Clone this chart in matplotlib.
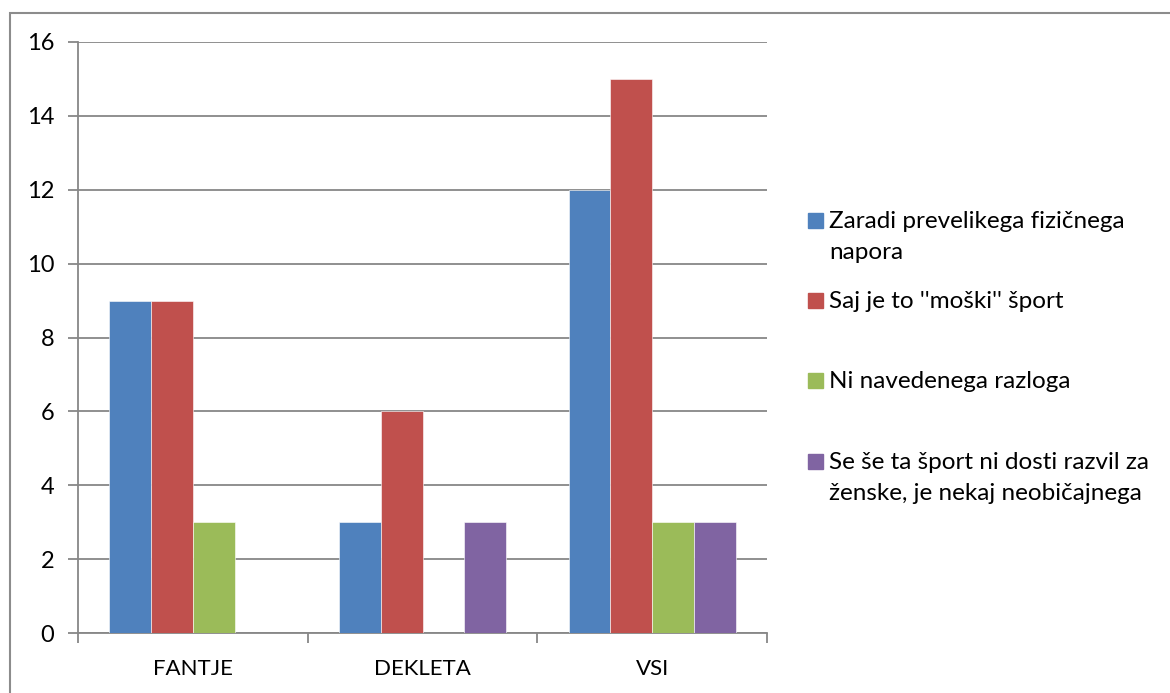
import numpy as np
import matplotlib
matplotlib.use('Agg')
import matplotlib.pyplot as plt
from matplotlib.patches import Rectangle

plt.rcParams['font.family'] = ['Lato', 'DejaVu Sans']

categories = ['FANTJE', 'DEKLETA', 'VSI']
series_names = ['Zaradi prevelikega fizičnega\nnapora',
                "Saj je to ''moški'' šport",
                'Ni navedenega razloga',
                'Se še ta šport ni dosti razvil za\nženske, je nekaj neobičajnega']
zaradi = [9, 3, 12]
saj = [9, 6, 15]
ni = [3, 0, 3]
se = [0, 3, 3]
colors = ['#4F81BD', '#C0504D', '#9BBB59', '#8064A2']
y_ticks = [0, 2, 4, 6, 8, 10, 12, 14, 16]

W, H = 1170, 693
fig = plt.figure(figsize=(W / 100, H / 100), dpi=100)
ax = fig.add_axes([78 / W, 1 - 633 / H, (767 - 78) / W, (633 - 42) / H])

grid_color = '#878787'
values = [zaradi, saj, ni, se]
n = len(values)
bar_w = 1 / (n + 1.5)
x = np.arange(len(categories)) + 0.5
for i, vals in enumerate(values):
    offs = (i - (n - 1) / 2) * bar_w
    ax.bar(x + offs, vals, width=bar_w, color=colors[i],
           edgecolor='white', linewidth=0.4, zorder=3)

ax.set_xlim(0, len(categories))
ax.set_ylim(0, 16)
ax.set_yticks(y_ticks)
ax.set_yticklabels([str(v) for v in y_ticks], fontsize=17)
ax.set_xticks(np.arange(len(categories) + 1))
ax.set_xticklabels([])
ax.set_xticks(x, minor=True)
ax.set_xticklabels(categories, minor=True, fontsize=16)
ax.tick_params(axis='x', which='minor', length=0, pad=19)
ax.tick_params(axis='x', which='major', length=7, color=grid_color, width=1.3)
ax.tick_params(axis='y', length=7, color=grid_color, width=1.3, pad=10)
ax.yaxis.grid(True, color=grid_color, linewidth=1.3, zorder=0)
ax.set_axisbelow(True)
for s in ['top', 'right']:
    ax.spines[s].set_visible(False)
for s in ['left', 'bottom']:
    ax.spines[s].set_color(grid_color)
    ax.spines[s].set_linewidth(1.3)

# legend drawn by hand so rows keep an equal pitch as in the original
baselines = [228, 308, 388, 469]
line_pitch = 31
for name, c, yy in zip(series_names, colors, baselines):
    fig.patches.append(Rectangle((808 / W, 1 - yy / H), 15 / W, 15 / H,
                                 transform=fig.transFigure, color=c))
    for k, line in enumerate(name.split('\n')):
        fig.text(829 / W, 1 - (yy + k * line_pitch) / H, line, fontsize=17.5,
                 va='baseline', ha='left')

# outer chart border
fig.patches.append(Rectangle((10 / W, -0.05), 1.1, 1.05 - 13 / H,
                             transform=fig.transFigure, fill=False,
                             edgecolor='#8c8c8c', linewidth=1.5))

fig.savefig('out.png', dpi=100)
